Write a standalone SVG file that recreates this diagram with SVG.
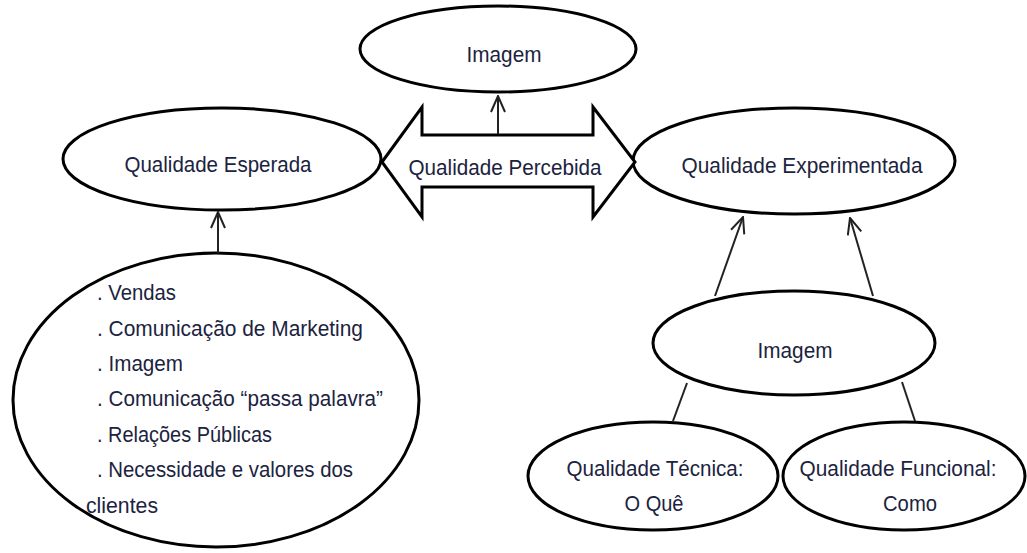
<svg xmlns="http://www.w3.org/2000/svg" width="1027" height="553" viewBox="0 0 1027 553">
<style>
.n{fill:#fff;stroke:#000;stroke-width:3}
.t{font-family:"Liberation Sans",Arial,sans-serif;font-size:22px;fill:#1b2340}
.c{text-anchor:middle}
.k{stroke:#222;stroke-width:2;fill:none}
</style>
<defs>
<marker id="ah" viewBox="0 0 18 16" refX="17" refY="8" markerWidth="18" markerHeight="16" markerUnits="userSpaceOnUse" orient="auto">
<path d="M1,1 L17,8 L1,15" fill="none" stroke="#222" stroke-width="2"/>
</marker>
</defs>
<rect width="1027" height="553" fill="#fff"/>
<g id="imagem-top">
<ellipse class="n" cx="498" cy="49" rx="138" ry="43"/>
<text class="t c" x="504" y="62" textLength="75" lengthAdjust="spacingAndGlyphs">Imagem</text>
</g>
<g id="qualidade-esperada">
<ellipse class="n" cx="222" cy="159" rx="159" ry="51"/>
<text class="t c" x="218" y="172" textLength="187" lengthAdjust="spacingAndGlyphs">Qualidade Esperada</text>
</g>
<g id="qualidade-experimentada">
<ellipse class="n" cx="794" cy="161" rx="161" ry="53"/>
<text class="t c" x="802" y="173" textLength="241" lengthAdjust="spacingAndGlyphs">Qualidade Experimentada</text>
</g>
<g id="qualidade-percebida">
<polygon points="382,162 422,107 422,135 593,135 593,107 635,162 593,217 593,187 422,187 422,217" fill="#fff" stroke="#000" stroke-width="3" stroke-linejoin="miter"/>
<text class="t c" x="505" y="175" textLength="193" lengthAdjust="spacingAndGlyphs">Qualidade Percebida</text>
</g>
<g id="fatores">
<ellipse class="n" cx="216" cy="400" rx="203" ry="147"/>
<text class="t" x="97" y="300" textLength="79" lengthAdjust="spacingAndGlyphs">. Vendas</text>
<text class="t" x="97" y="336" textLength="266" lengthAdjust="spacingAndGlyphs">. Comunicação de Marketing</text>
<text class="t" x="97" y="371" textLength="86" lengthAdjust="spacingAndGlyphs">. Imagem</text>
<text class="t" x="97" y="406" textLength="286" lengthAdjust="spacingAndGlyphs">. Comunicação “passa palavra”</text>
<text class="t" x="97" y="442" textLength="175" lengthAdjust="spacingAndGlyphs">. Relações Públicas</text>
<text class="t" x="97" y="477" textLength="256" lengthAdjust="spacingAndGlyphs">. Necessidade e valores dos</text>
<text class="t" x="86" y="513" textLength="72" lengthAdjust="spacingAndGlyphs">clientes</text>
</g>
<g id="imagem-mid">
<ellipse class="n" cx="794" cy="343" rx="141" ry="52"/>
<text class="t c" x="795" y="358" textLength="75" lengthAdjust="spacingAndGlyphs">Imagem</text>
</g>
<g id="qualidade-tecnica">
<ellipse class="n" cx="653" cy="476" rx="125" ry="54"/>
<text class="t c" x="655" y="476" textLength="177" lengthAdjust="spacingAndGlyphs">Qualidade Técnica:</text>
<text class="t c" x="654" y="511" textLength="59" lengthAdjust="spacingAndGlyphs">O Quê</text>
</g>
<g id="qualidade-funcional">
<ellipse class="n" cx="904" cy="476" rx="121" ry="54"/>
<text class="t c" x="898" y="476" textLength="197" lengthAdjust="spacingAndGlyphs">Qualidade Funcional:</text>
<text class="t c" x="910" y="511" textLength="54" lengthAdjust="spacingAndGlyphs">Como</text>
</g>
<g id="connectors">
<line class="k" x1="498" y1="134" x2="498" y2="96" marker-end="url(#ah)"/>
<line class="k" x1="218" y1="253" x2="218" y2="212" marker-end="url(#ah)"/>
<line class="k" x1="715" y1="296" x2="743" y2="217" marker-end="url(#ah)"/>
<line class="k" x1="873" y1="296" x2="850" y2="218" marker-end="url(#ah)"/>
<line class="k" x1="687" y1="383" x2="673" y2="421"/>
<line class="k" x1="902" y1="382" x2="915" y2="421"/>
</g>
</svg>
